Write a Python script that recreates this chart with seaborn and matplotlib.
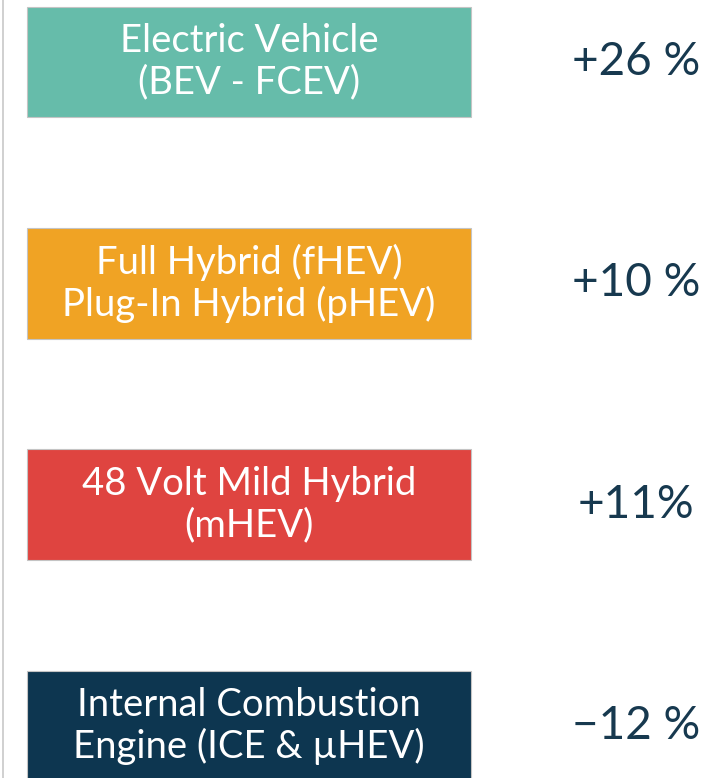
import matplotlib
matplotlib.use("Agg")
import matplotlib.pyplot as plt
import seaborn as sns
import pandas as pd

# Powertrain categories (box labels), growth figures and box colours
categories = [
    "Electric Vehicle\n(BEV - FCEV)",
    "Full Hybrid (fHEV)\nPlug-In Hybrid (pHEV)",
    "48 Volt Mild Hybrid\n(mHEV)",
    "Internal Combustion\nEngine (ICE & \u00b5HEV)",
]
changes = ["+26 %", "+10 %", "+11%", "\u221212 %"]
box_len = [1, 1, 1, 1]
colors = ["#66bcaa", "#f0a324", "#df4440", "#0d3650"]

TEXT_DARK = "#17394f"

sns.set_theme(style="white")
plt.rcParams["font.family"] = ["Lato", "DejaVu Sans"]

df = pd.DataFrame({"category": categories, "length": box_len})

fig = plt.figure(figsize=(7.02, 7.78), dpi=100)
ax = fig.add_axes([2.5 / 702, 0, 1 - 2.5 / 702, 1])

sns.barplot(
    data=df, x="length", y="category", hue="category",
    palette=colors, saturation=1, orient="h", width=0.5, legend=False,
    edgecolor="#c4c4c4", linewidth=0.8, ax=ax,
)

# map data units to the picture: boxes span 27..471 px, rows 221 px apart
px_per_x = 444.0
ax.set_xlim(-24.5 / px_per_x, (702 - 27) / px_per_x)
ax.set_ylim(3.235, -0.28)

for i, (label, change) in enumerate(zip(categories, changes)):
    ax.text(0.5, i, label, ha="center", va="center", color="white",
            fontsize=27.5, linespacing=1.18)
    ax.text(1.372, i, change, ha="center", va="center", color=TEXT_DARK,
            fontsize=33)

ax.set_xlabel("")
ax.set_ylabel("")
ax.set_xticks([])
ax.set_yticks([])
for side in ["top", "right", "bottom"]:
    ax.spines[side].set_visible(False)
ax.spines["left"].set_color("#c8c8c8")
ax.spines["left"].set_linewidth(1.2)

fig.savefig("out.png", dpi=100)
